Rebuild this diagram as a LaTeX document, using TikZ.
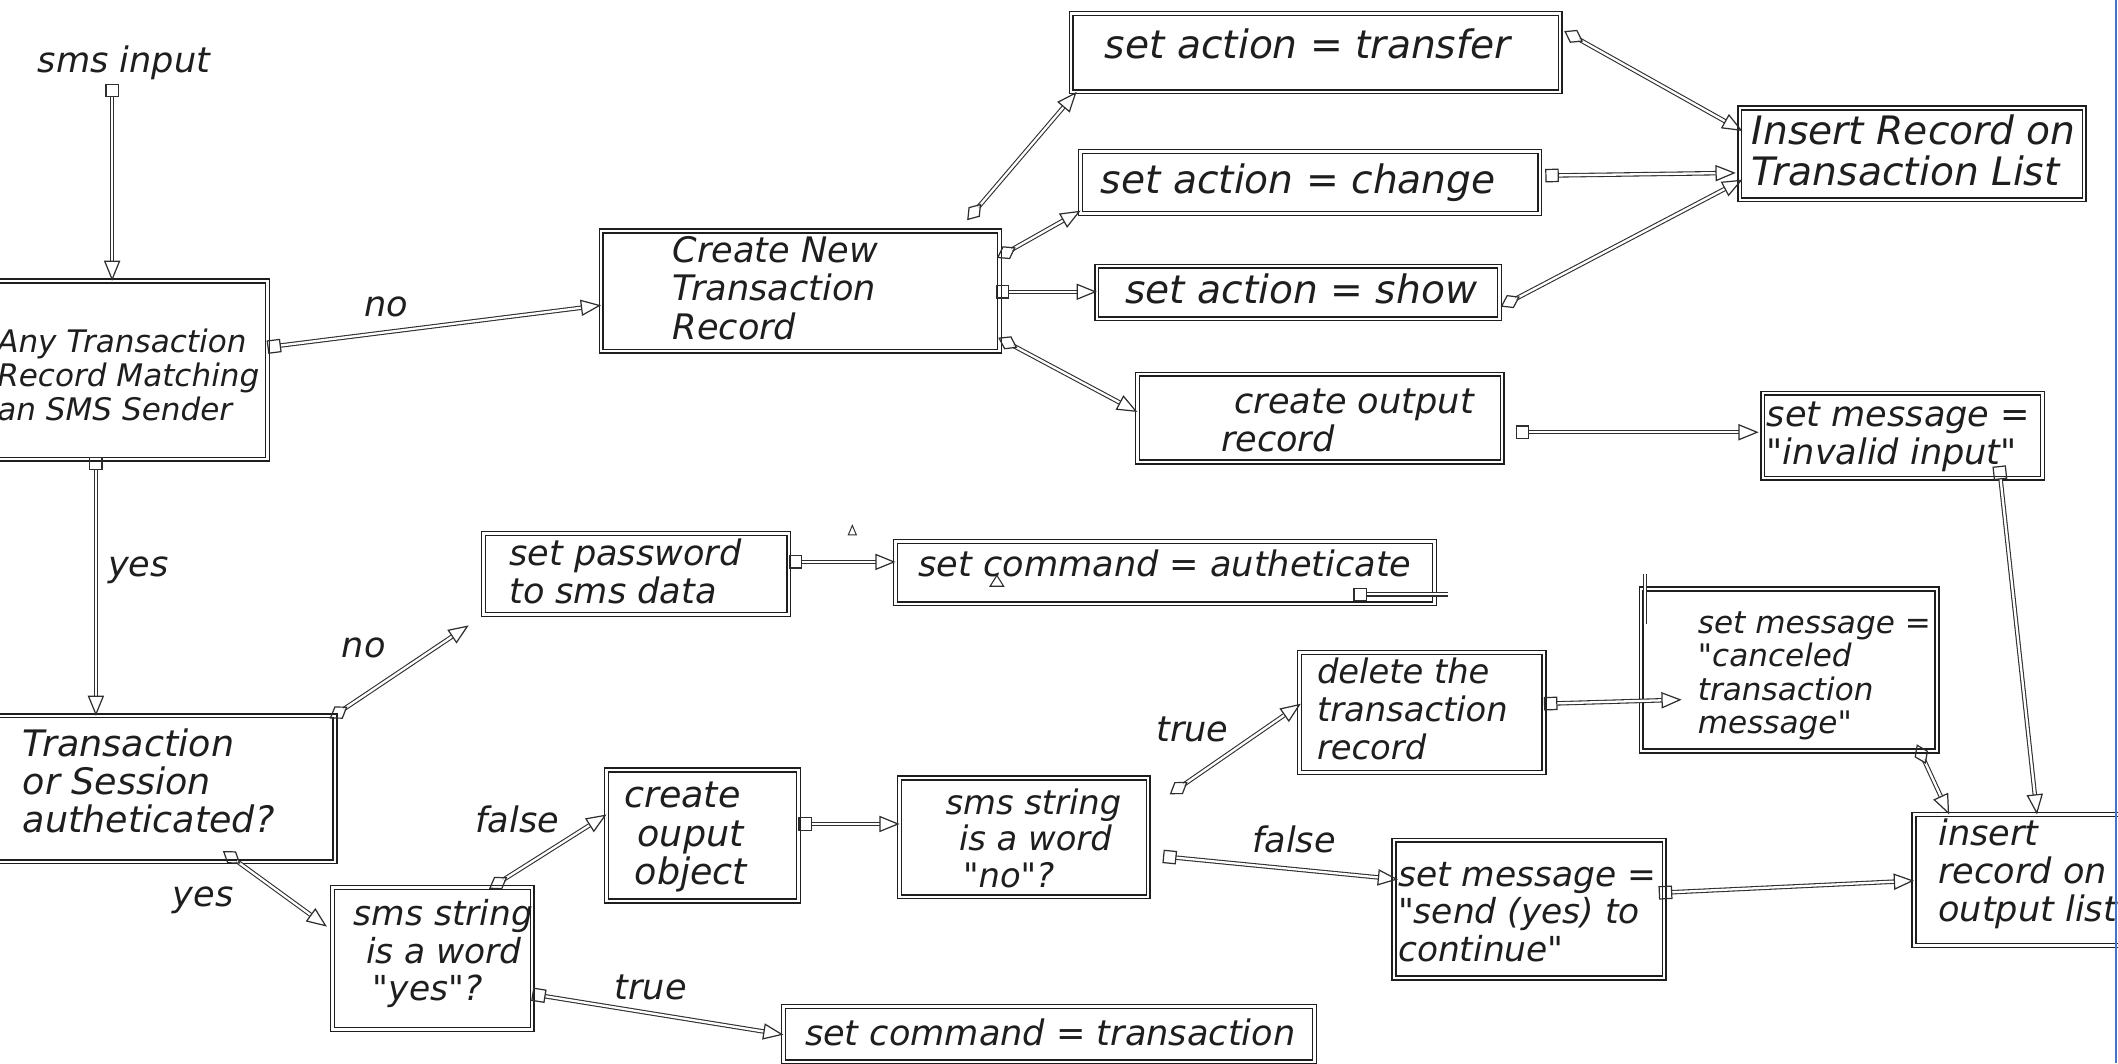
\documentclass[tikz,border=0pt]{standalone}
\usepackage{fontspec}
\setmainfont{DejaVu Sans}[Ligatures=TeXOff]
\usetikzlibrary{arrows.meta,calc}
\definecolor{ink}{HTML}{1E1E1E}
\definecolor{lnk}{HTML}{2E2E2E}
\definecolor{edgeblue}{HTML}{4472C4}
\newcommand\dq{"}
\tikzset{
  bx/.style={draw=ink, double=white, line width=1pt, double distance=1.8pt, inner sep=0pt, outer sep=0pt, anchor=north west},
  txt/.style={anchor=north west, inner sep=0pt, outer sep=0pt, align=left, text=ink},
  conn/.style={draw=lnk, double=white, line width=0.8pt, double distance=1.7pt},
  sqa/.style={conn, arrows={Square[open,length=10pt,width=10pt,line width=0.9pt]-Triangle[open,length=15pt,width=12pt,line width=0.9pt]}},
  dma/.style={conn, arrows={Diamond[open,length=16pt,width=11pt,line width=0.9pt]-Triangle[open,length=15pt,width=12pt,line width=0.9pt]}},
  sqo/.style={conn, arrows={Square[open,length=10pt,width=10pt,line width=0.9pt]-}},
}
\newcommand\bxx[5]{\node[bx, minimum width={(#4-#2)*1pt}, minimum height={(#5-#3)*1pt}] (#1) at (#2,#3) {};}
\newcommand\tx[6]{\node[txt, font=\fontsize{#4}{#5}\selectfont\itshape] (#1) at (#2,{#3-0.9*#4}) {\rule{0pt}{0.9em}#6};}
\begin{document}
\begin{tikzpicture}[x=1pt,y=-1pt]
\fill[white] (0,0) rectangle (1568,787);
\useasboundingbox (0,0) rectangle (1568,787);
% boxes
\bxx{A}{-12}{208}{198}{340}
\bxx{B}{445}{171}{740}{260}
\bxx{Tr}{793}{10}{1155}{68}
\bxx{Ch}{800}{112}{1140}{158}
\bxx{Sh}{812}{197}{1110}{236}
\bxx{CO}{842}{277}{1112}{342}
\bxx{IR}{1288}{80}{1543}{148}
\bxx{IM}{1305}{291}{1512}{354}
\bxx{IO}{1417}{603}{1590}{700}
\bxx{T}{-12}{530}{248}{638}
\bxx{SP}{358}{395}{584}{455}
\bxx{SA}{663}{401}{1062}{447}
\bxx{SY}{246}{657}{394}{762}
\bxx{COO}{449}{570}{591}{667}
\bxx{SN}{666}{576}{850}{664}
\bxx{DT}{962}{483}{1143}{572}
\bxx{CM}{1215}{436}{1434}{556}
\bxx{SM}{1032}{622}{1232}{724}
\bxx{ST}{580}{745}{973}{786}
% texts
\tx{smsin}{28}{54}{26}{28}{sms input}
\tx{At}{-2}{261}{23}{25}{Any Transaction\\Record Matching\\an SMS Sender}
\tx{Bt}{498}{194}{26}{28.5}{Create New\\Transaction\\Record}
\tx{Trt}{818}{43}{29}{30}{set action = transfer}
\tx{Cht}{815}{143}{29}{30}{set action = change}
\tx{Sht}{833}{225}{29}{30}{set action = show}
\tx{COt}{904}{306}{26}{28}{\hspace*{10pt}create output\\record}
\tx{IRt}{1297}{107}{29}{30}{Insert Record on\\Transaction List}
\tx{IMt}{1308}{316}{26}{28}{set message =\\\dq invalid input\dq}
\tx{IOt}{1435}{626}{26}{28}{insert\\record on\\output list}
\tx{Tt}{17}{560}{27}{28}{Transaction\\or Session\\autheticated?}
\tx{SPt}{377}{419}{26}{28}{set password\\to sms data}
\tx{SAt}{680}{427}{26}{28}{set command = autheticate}
\tx{SYt}{262}{685}{25.5}{28}{sms string\\\hspace*{9pt}is a word\\\hspace*{14pt}\dq yes\dq ?}
\tx{COOt}{462}{598}{27}{28.5}{create\\\hspace*{10pt}ouput\\\hspace*{8pt}object}
\tx{SNt}{700}{603}{25}{27}{sms string\\\hspace*{10pt}is a word\\\hspace*{13pt}\dq no\dq ?}
\tx{DTt}{975}{506}{25}{28}{delete the\\transaction\\record}
\tx{CMt}{1257}{469}{23}{24.7}{set message =\\\dq canceled\\transaction\\message\dq}
\tx{SMt}{1035}{656}{25.5}{28}{set message =\\\dq send (yes) to\\continue\dq}
\tx{STt}{596}{774}{26}{28}{set command = transaction}
% edge labels
\tx{l1}{270}{234}{26}{28}{no}
\tx{l2}{80}{427}{26}{28}{yes}
\tx{l3}{253}{487}{26}{28}{no}
\tx{l4}{128}{671}{26}{28}{yes}
\tx{l5}{352}{616}{26}{28}{false}
\tx{l6}{455}{740}{26}{28}{true}
\tx{l7}{856}{549}{26}{28}{true}
\tx{l8}{927}{631}{26}{28}{false}
% connectors
\coordinate (in) at (83,62);
\draw[sqa] (in) -- ($(A.north west)+(95,0)$);
\draw[sqa] ($(A.north east)+(0,49)$) -- ($(B.north west)+(0,55)$);
\draw[dma] ($(B.north west)+(271,-8)$) -- ($(Tr.south west)+(4,0)$);
\draw[dma] ($(B.north east)+(-2,20)$) -- ($(Ch.south west)+(0,-2)$);
\draw[sqa] ($(B.north east)+(-3,45)$) -- ($(Sh.north west)+(0,19)$);
\draw[dma] ($(B.north east)+(-1,79)$) -- ($(CO.north west)+(0,28)$);
\draw[dma] ($(Tr.north east)+(3,13)$) -- ($(IR.north west)+(2,17)$);
\draw[sqa] ($(Ch.north east)+(4,18)$) -- ($(IR.north west)+(-3,48)$);
\draw[dma] ($(Sh.north east)+(1,30)$) -- ($(IR.north west)+(2,53)$);
\draw[sqa] ($(CO.north east)+(10,43)$) -- ($(IM.north west)+(-3,29)$);
\draw[sqa] ($(IM.south west)+(175,-9)$) -- ($(IO.north west)+(91,0)$);
\draw[sqa] ($(A.south west)+(83,-2)$) -- ($(T.north west)+(83,0)$);
\draw[dma] ($(T.north east)+(-4,2)$) -- ($(SP.south west)+(-11,8)$);
\draw[dma] ($(T.south west)+(177,-8)$) -- ($(SY.north west)+(-4,29)$);
\draw[dma] ($(SY.north west)+(116,1)$) -- ($(COO.north west)+(0,33)$);
\draw[sqa] ($(COO.north east)+(0,40)$) -- ($(SN.north west)+(0,34)$);
\draw[dma] ($(SN.north east)+(16,12)$) -- ($(DT.north west)+(1,38)$);
\draw[sqa] ($(SN.north east)+(11,58)$) -- ($(SM.north west)+(3,29)$);
\draw[sqa] ($(DT.north east)+(0,38)$) -- ($(CM.north west)+(30,82)$);
\draw[dma] ($(CM.south east)+(-15,-5)$) -- ($(IO.north west)+(26,0)$);
\draw[sqa] ($(SM.north east)+(-4,39)$) -- ($(IO.north west)+(0,49)$);
\draw[sqa] ($(SY.north east)+(0,79)$) -- ($(ST.north west)+(0,21)$);
\draw[sqa] ($(SP.north east)+(0,21)$) -- ($(SA.north west)+(0,15)$);
\coordinate (sae) at (1072,440);
\draw[sqo] ($(SA.south west)+(339,-7)$) -- (sae);
% small marks
\draw[lnk, line width=0.7pt] (628,396) -- (631,389) -- (634,396) -- cycle;
\draw[lnk, line width=0.8pt] (733,434) -- (738,426) -- (743,434) -- cycle;
\draw[conn] (1218,425) -- (1218,462);
% right edge line
\draw[edgeblue, line width=1.6pt] (1566.5,0) -- (1566.5,787);
\end{tikzpicture}
\end{document}
